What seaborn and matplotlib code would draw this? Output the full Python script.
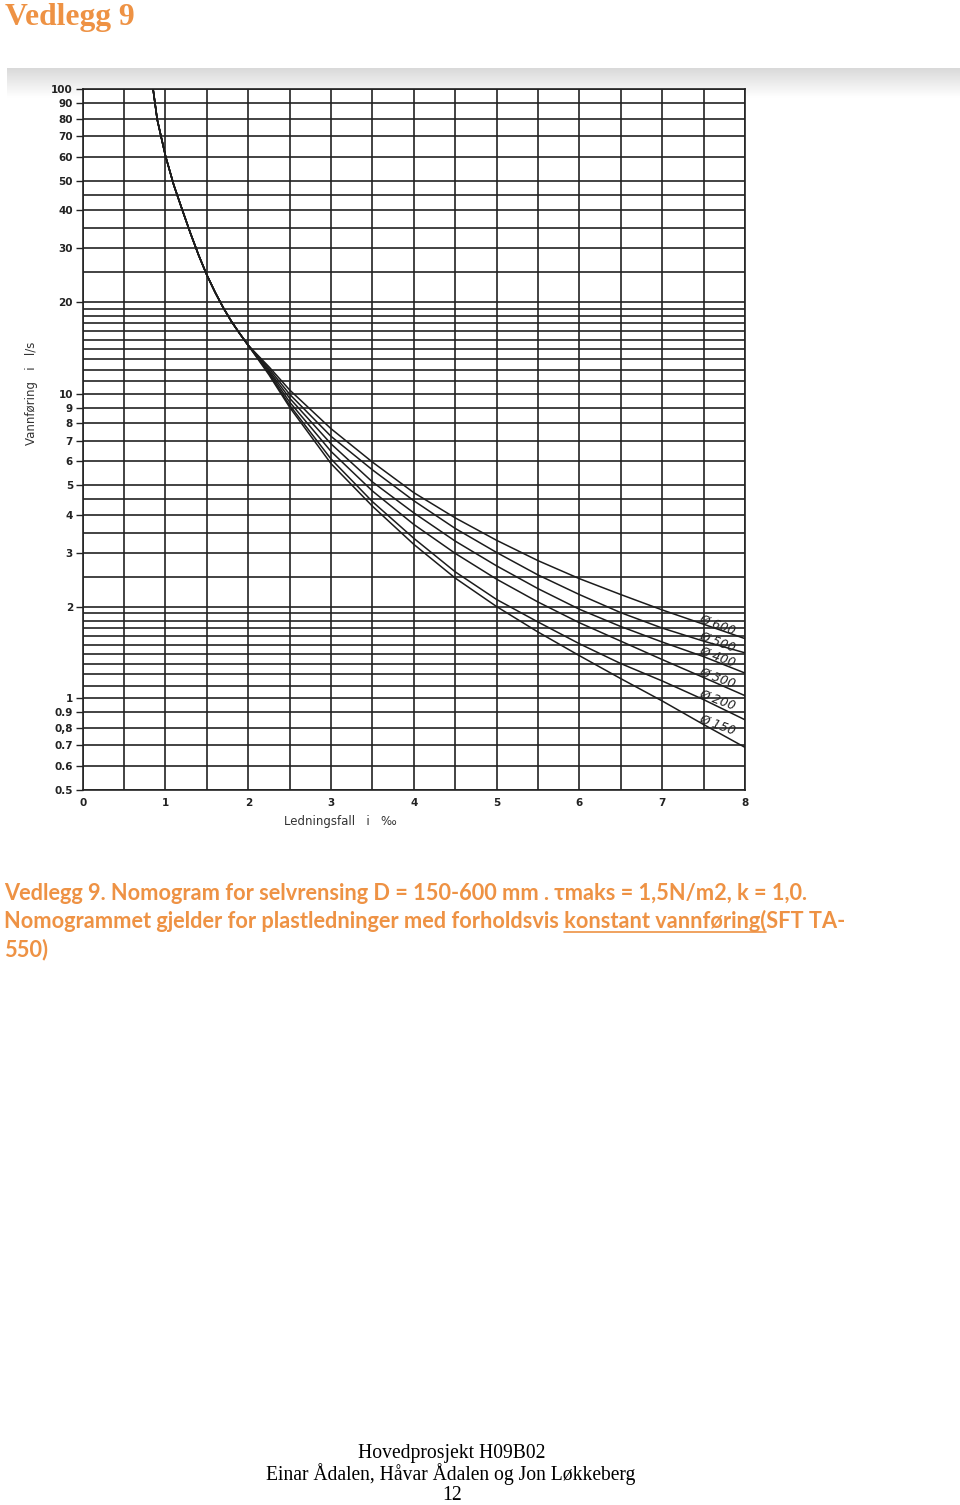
import numpy as np
import pandas as pd
import matplotlib
matplotlib.use("Agg")
import matplotlib.pyplot as plt
import seaborn as sns
from matplotlib.ticker import NullFormatter

# ---------------- data ----------------
# common part of all curves (slope i in per mille, flow Q in l/s)
i_common = [0.85, 0.9, 1.0, 1.1, 1.2, 1.3, 1.4, 1.5, 1.6, 1.7, 1.8, 1.9, 2.0]
q_common = [100, 79.4, 60.3, 48.4, 40.3, 33.7, 28.5, 24.5, 21.5, 19.1, 17.2, 15.7, 14.4]

# fan part, one curve per pipe diameter
i_fan = [2.25, 2.5, 3.0, 3.5, 4.0, 4.5, 5.0, 5.5, 6.0, 6.5, 7.0, 7.5, 8.0]
q_600 = [12.25, 10.28, 7.67, 5.96, 4.73, 3.91, 3.30, 2.83, 2.47, 2.19, 1.95, 1.75, 1.57]
q_500 = [12.08, 9.95, 7.24, 5.62, 4.45, 3.61, 3.01, 2.54, 2.19, 1.91, 1.70, 1.54, 1.41]
q_400 = [11.91, 9.66, 6.84, 5.13, 4.06, 3.28, 2.72, 2.29, 1.96, 1.72, 1.53, 1.37, 1.21]
q_300 = [11.78, 9.38, 6.46, 4.79, 3.72, 2.99, 2.46, 2.07, 1.77, 1.54, 1.34, 1.17, 1.02]
q_200 = [11.64, 9.16, 6.10, 4.42, 3.35, 2.60, 2.11, 1.78, 1.51, 1.30, 1.14, 0.99, 0.85]
q_150 = [11.53, 9.02, 5.89, 4.27, 3.20, 2.48, 2.00, 1.65, 1.38, 1.16, 0.98, 0.82, 0.69]
diameters = [600, 500, 400, 300, 200, 150]

y_tick_vals = [100, 90, 80, 70, 60, 50, 40, 30, 20, 10, 9, 8, 7, 6, 5, 4, 3, 2,
               1, 0.9, 0.8, 0.7, 0.6, 0.5]
y_tick_txt = ["100", "90", "80", "70", "60", "50", "40", "30", "20", "10", "9", "8",
              "7", "6", "5", "4", "3", "2", "1", "0.9", "0,8", "0.7", "0.6", "0.5"]
y_grid = [100, 90, 80, 70, 60, 50, 45, 40, 35, 30, 25, 20, 19, 18, 17, 16, 15, 14,
          13, 12, 11, 10, 9, 8, 7, 6, 5, 4.5, 4, 3.5, 3, 2.5, 2, 1.9, 1.8, 1.7, 1.6,
          1.5, 1.4, 1.3, 1.2, 1.1, 1, 0.9, 0.8, 0.7, 0.6, 0.5]
x_ticks = [0, 1, 2, 3, 4, 5, 6, 7, 8]
x_grid = [0.5, 1.5, 2.5, 3.5, 4.5, 5.5, 6.5, 7.5]

title = "Vedlegg 9"
cap1 = "Vedlegg 9. Nomogram for selvrensing D = 150-600 mm . \u03c4maks = 1,5N/m2, k = 1,0."
cap2a = "Nomogrammet gjelder for plastledninger med forholdsvis "
cap2b = "konstant vannf\u00f8ring("
cap2c = "SFT TA-"
cap3 = "550)"
foot = ["Hovedprosjekt H09B02", "Einar \u00c5dalen, H\u00e5var \u00c5dalen og Jon L\u00f8kkeberg", "12"]

# ---------------- style ----------------
sns.set_style("white")
plt.rcParams["font.family"] = ["DejaVu Sans"]
ORANGE = "#EE9244"
INK = "#222222"

W, H = 960, 1505
fig = plt.figure(figsize=(W / 100, H / 100), dpi=100)
renderer = fig.canvas.get_renderer()


def fx(px):
    return px / W


def fy(py):
    return 1 - py / H


def width_of(t):
    return t.get_window_extent(renderer=renderer).width


def fit(t, target):
    t.set_fontsize(t.get_fontsize() * target / width_of(t))


# scanned grey band above the chart
band = fig.add_axes([fx(7), fy(98), fx(953), 30 / H], zorder=0)
grad = np.linspace(0.85, 1.0, 60)[:, None] * np.ones((1, 4))
band.imshow(grad, cmap="gray", vmin=0, vmax=1, aspect="auto")
band.axis("off")

# ---------------- main chart ----------------
ax = fig.add_axes([fx(82.7), fy(790), (745 - 82.7) / W, (790 - 89) / H], zorder=2)
ax.set_facecolor("white")

q_fan = [q_600, q_500, q_400, q_300, q_200, q_150]
rows = []
for d, q in zip(diameters, q_fan):
    for x, y in zip(i_common + i_fan, q_common + q):
        rows.append({"i": x, "Q": y, "D": str(d)})
df = pd.DataFrame(rows)

ax.set_yscale("log")
sns.lineplot(data=df, x="i", y="Q", hue="D", palette={str(d): "#1c1c1c" for d in diameters},
             estimator=None, sort=False, legend=False, linewidth=1.1, ax=ax, zorder=3)

ax.set_xlim(0, 8)
ax.set_ylim(0.5, 100)
ax.set_yticks(y_tick_vals, labels=y_tick_txt)
ax.set_yticks([v for v in y_grid if v not in y_tick_vals], minor=True)
ax.yaxis.set_minor_formatter(NullFormatter())
ax.set_xticks(x_ticks, labels=[str(v) for v in x_ticks])
ax.set_xticks(x_grid, minor=True)
ax.grid(which="both", color=INK, linewidth=1.2)
ax.set_axisbelow(True)
for s in ax.spines.values():
    s.set_color(INK)
    s.set_linewidth(1.2)
ax.tick_params(axis="y", which="major", length=5, width=1, pad=2, labelsize=7.5,
               colors=INK, left=True)
ax.tick_params(axis="y", which="minor", length=0)
ax.tick_params(axis="x", which="both", length=0, pad=6, labelsize=7.5, colors=INK)
for lbl in ax.get_xticklabels() + ax.get_yticklabels():
    lbl.set_fontweight("bold")
ax.set_xlabel("")
ax.set_ylabel("")

# curve labels near the right end
for d, q in zip(diameters, q_fan):
    ax.annotate(f"\u00d8 {d}", xy=(7.42, q[-2]), xytext=(0, 0), textcoords="offset points",
                rotation=-20, rotation_mode="anchor", ha="left", va="bottom",
                fontsize=9, style="italic", color=INK, zorder=4)

# axis titles
fig.text(fx(340), fy(821), "Ledningsfall   i   \u2030", ha="center", va="center",
         fontsize=8.5, color="#333333")
fig.text(fx(32), fy(393), "Vannf\u00f8ring   i   l/s", ha="center", va="center",
         rotation=90, fontsize=8.5, color="#333333")

# ---------------- page texts ----------------
t = fig.text(fx(5), fy(25), title, family=["Liberation Serif"], fontweight="bold",
             fontsize=20, color=ORANGE, va="baseline", ha="left")
fit(t, 130)

capfam = ["Lato", "DejaVu Sans"]
c1 = fig.text(fx(4), fy(900), cap1, family=capfam, fontweight="bold", fontsize=15,
              color=ORANGE, va="baseline", ha="left")
fit(c1, 804)
fs = c1.get_fontsize()
c2 = fig.text(fx(4), fy(928), cap2a + cap2b + cap2c, family=capfam, fontweight="bold",
              fontsize=fs, color=ORANGE, va="baseline", ha="left")
fig.text(fx(4), fy(956), cap3, family=capfam, fontweight="bold", fontsize=fs,
         color=ORANGE, va="baseline", ha="left")
tmp_ab = fig.text(0, 0, cap2a + cap2b, family=capfam, fontweight="bold", fontsize=fs)
tmp_b = fig.text(0, 0, cap2b, family=capfam, fontweight="bold", fontsize=fs)
w_ab = width_of(tmp_ab)
w_b = width_of(tmp_b)
tmp_ab.remove()
tmp_b.remove()
x_end = 4 + w_ab
x_start = x_end - w_b
fig.add_artist(plt.Line2D([fx(x_start), fx(x_end)], [fy(931.5), fy(931.5)],
                          color=ORANGE, linewidth=1.2, transform=fig.transFigure))

f2 = fig.text(fx(451), fy(1480), foot[1], family=["Liberation Serif"], fontsize=13.5,
              color="black", ha="center", va="baseline")
fit(f2, 372)
ffs = f2.get_fontsize()
fig.text(fx(452), fy(1458), foot[0], family=["Liberation Serif"], fontsize=ffs,
         color="black", ha="center", va="baseline")
fig.text(fx(452), fy(1500), foot[2], family=["Liberation Serif"], fontsize=ffs,
         color="black", ha="center", va="baseline")

fig.savefig("out.png", dpi=100, facecolor="white")
